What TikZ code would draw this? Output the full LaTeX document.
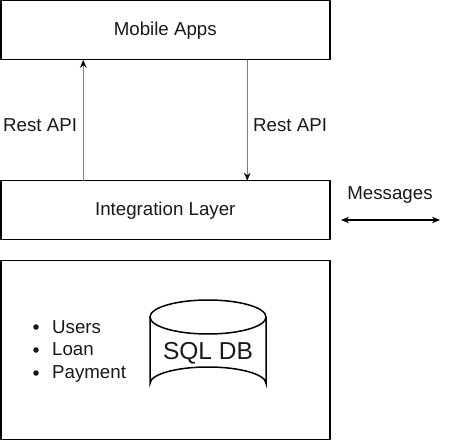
\documentclass[tikz,border=0pt]{standalone}
\usepackage{fontspec}
\setmainfont{Liberation Sans}
\usetikzlibrary{arrows.meta,calc}
\begin{document}
\begin{tikzpicture}[x=1pt,y=-1pt,
  box/.style={draw=black,line width=1.5pt,minimum width=329pt,minimum height=59pt,inner sep=0pt,outer sep=0pt,anchor=north west},
  lbl/.style={font=\fontsize{18.7}{22}\selectfont,text=black!90,inner sep=0pt},
  graylink/.style={draw=black!50,line width=1.5pt,-{Stealth[length=8pt,width=6.5pt,color=black]}},
  blacklink/.style={draw=black,line width=1.5pt,{Stealth[length=8pt,width=6.5pt]}-{Stealth[length=8pt,width=6.5pt]}}]
\useasboundingbox (0,0) rectangle (451,441);
\fill[white] (0,0) rectangle (451,441);
\node[box,lbl] (mobile) at (0.75,0.75) {Mobile Apps};
\node[box,lbl] (integ) at (0.75,180.75) {Integration Layer};
\node[box,minimum height=179pt] (store) at (0.75,260.75) {};
% arrows
\draw[graylink] ($(integ.north west)+(82.5,0)$) -- ($(mobile.south west)+(82.5,0)$);
\draw[graylink] ($(mobile.south west)+(246.5,0)$) -- ($(integ.north west)+(246.5,0)$);
\node[lbl,anchor=west] (rl) at (3,125) {Rest API};
\node[lbl,anchor=west] (rr) at (253,125) {Rest API};
% messages
\node[lbl] (msg) at (390,195) {Messages};
\coordinate (ma) at (341,220);
\coordinate (mb) at (440,220);
\draw[blacklink] (ma) -- (mb);
% bullet list
\node[lbl,anchor=west,align=left] (list) at (52,351.5) {Users\\[0.6pt]Loan\\[0.6pt]Payment};
\foreach \yy in {327,350,373} \fill[black!90] (36,\yy) circle (2.8pt);
% cylinder
\draw[line width=1.5pt] (150,317) -- (150,383.5) arc[start angle=180,end angle=360,x radius=58,y radius=16.5] -- (266,317);
\draw[line width=1.5pt] (208,317) ellipse[x radius=58,y radius=17];
\node[font=\fontsize{24.5}{28}\selectfont,text=black!90,inner sep=0pt] (db) at (208,353) {SQL DB};
\end{tikzpicture}
\end{document}
